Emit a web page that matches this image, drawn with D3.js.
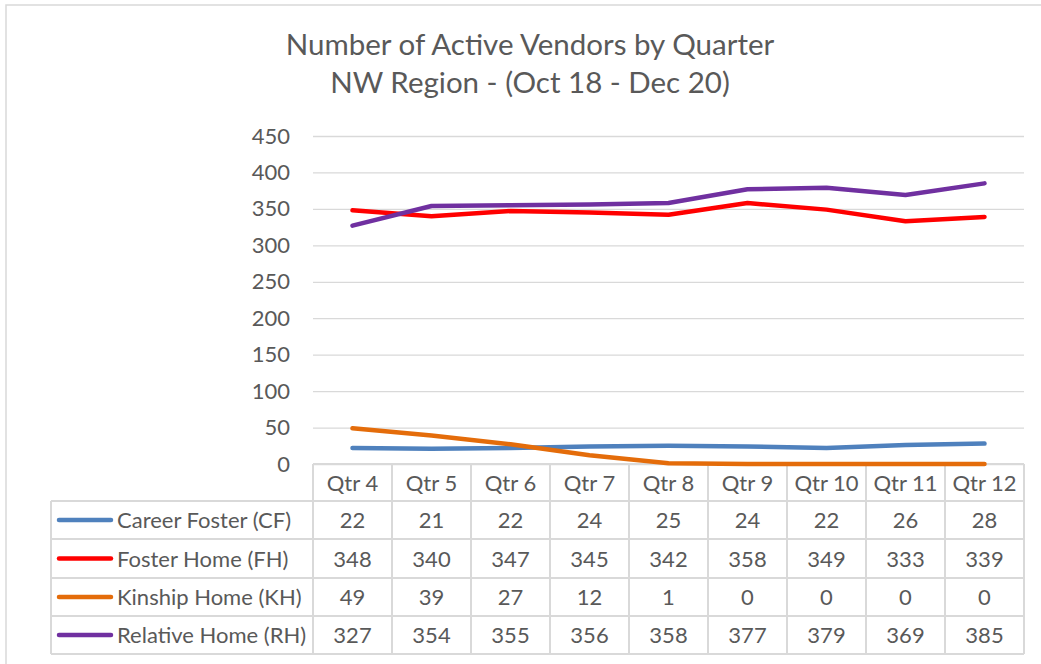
<!DOCTYPE html>
<html>
<head>
<meta charset="utf-8">
<script src="https://cdn.jsdelivr.net/npm/d3@7"></script>
<style>
  body { margin: 0; background: #fff; }
  svg { display: block; font-family: Lato, "Open Sans", sans-serif; }
</style>
</head>
<body>
<svg id="grafico" width="1041" height="664"></svg>
<script>
'use strict';

// Datos del gráfico
var trimestres = ['Qtr 4', 'Qtr 5', 'Qtr 6', 'Qtr 7', 'Qtr 8', 'Qtr 9', 'Qtr 10', 'Qtr 11', 'Qtr 12'];
var careerFoster  = [22, 21, 22, 24, 25, 24, 22, 26, 28];
var fosterHome    = [348, 340, 347, 345, 342, 358, 349, 333, 339];
var kinshipHome   = [49, 39, 27, 12, 1, 0, 0, 0, 0];
var relativeHome  = [327, 354, 355, 356, 358, 377, 379, 369, 385];
var marcasY = [0, 50, 100, 150, 200, 250, 300, 350, 400, 450];
var titulo = ['Number of Active Vendors by Quarter', 'NW Region - (Oct 18 - Dec 20)'];

var series = [
  { nombre: 'Career Foster (CF)', valores: careerFoster, color: '#4f81bd' },
  { nombre: 'Foster Home (FH)', valores: fosterHome, color: '#ff0000' },
  { nombre: 'Kinship Home (KH)', valores: kinshipHome, color: '#e46c0a' },
  { nombre: 'Relative Home (RH)', valores: relativeHome, color: '#7030a0' }
];

(function() {
  var svg = d3.select('#grafico');
  var gris = '#595959';
  var linea = '#d9d9d9';
  var letra = 22;

  // Borde del área del gráfico
  svg.append('rect')
    .attr('x', 6).attr('y', 5)
    .attr('width', 1100).attr('height', 700)
    .attr('fill', '#fff').attr('stroke', linea).attr('stroke-width', 1.5);

  // Título
  svg.append('g').selectAll('text').data(titulo).enter().append('text')
    .attr('x', 530)
    .attr('y', function(d, i) { return 55 + i * 38; })
    .attr('text-anchor', 'middle')
    .attr('font-size', 29.5)
    .attr('fill', gris)
    .text(function(d) { return d; });

  // Escalas
  var x = d3.scaleBand().domain(trimestres).range([313, 1024]);
  var y = d3.scaleLinear().domain([0, 450]).range([464, 136]);

  // Cuadrícula y eje Y
  var ejeY = svg.append('g')
    .attr('transform', 'translate(313,0)')
    .call(d3.axisLeft(y).tickValues(marcasY).tickSize(-711).tickPadding(23));
  ejeY.select('.domain').remove();
  ejeY.selectAll('line').attr('stroke', linea).attr('stroke-width', 1.3);
  ejeY.selectAll('text').attr('fill', gris).attr('font-size', letra)
    .attr('font-family', 'Lato, "Open Sans", sans-serif');

  // Tabla de datos
  var filas = [464, 501, 539, 578, 616, 654];
  var tabla = svg.append('g');
  var altoFila = function(i) { return filas[i + 1] - filas[i]; };

  // líneas horizontales
  tabla.selectAll('.h').data(filas.slice(1)).enter().append('line')
    .attr('x1', 51).attr('x2', 1024)
    .attr('y1', function(d) { return d; }).attr('y2', function(d) { return d; })
    .attr('stroke', linea).attr('stroke-width', 2);
  tabla.append('line')
    .attr('x1', 313).attr('x2', 1024).attr('y1', 464).attr('y2', 464)
    .attr('stroke', linea).attr('stroke-width', 2);

  // líneas verticales
  var columnas = trimestres.map(function(t) { return x(t); }).concat([x.range()[1]]);
  tabla.selectAll('.v').data(columnas).enter().append('line')
    .attr('x1', function(d) { return d; }).attr('x2', function(d) { return d; })
    .attr('y1', 464).attr('y2', 654)
    .attr('stroke', linea).attr('stroke-width', 2);
  tabla.append('line')
    .attr('x1', 51).attr('x2', 51).attr('y1', 501).attr('y2', 654)
    .attr('stroke', linea).attr('stroke-width', 2);

  // encabezados
  tabla.selectAll('.enc').data(trimestres).enter().append('text')
    .attr('x', function(d) { return x(d) + x.bandwidth() / 2; })
    .attr('y', filas[0] + altoFila(0) / 2 + 8)
    .attr('text-anchor', 'middle')
    .attr('font-size', letra).attr('fill', gris)
    .text(function(d) { return d; });

  // filas de cada serie
  series.forEach(function(s, i) {
    var yc = filas[i + 1] + altoFila(i + 1) / 2;
    tabla.append('line')
      .attr('x1', 59).attr('x2', 111).attr('y1', yc).attr('y2', yc)
      .attr('stroke', s.color).attr('stroke-width', 4.5).attr('stroke-linecap', 'round');
    tabla.append('text')
      .attr('x', 117).attr('y', yc + 8)
      .attr('font-size', letra).attr('fill', gris)
      .text(s.nombre);
    tabla.selectAll('.v' + i).data(s.valores).enter().append('text')
      .attr('x', function(d, j) { return x(trimestres[j]) + x.bandwidth() / 2; })
      .attr('y', yc + 8)
      .attr('text-anchor', 'middle')
      .attr('font-size', letra).attr('fill', gris)
      .text(function(d) { return d; });
  });

  // Líneas de las series
  var trazo = d3.line()
    .x(function(d, j) { return x(trimestres[j]) + x.bandwidth() / 2; })
    .y(function(d) { return y(d); });

  svg.append('g').selectAll('path').data(series).enter().append('path')
    .attr('d', function(s) { return trazo(s.valores); })
    .attr('fill', 'none')
    .attr('stroke', function(s) { return s.color; })
    .attr('stroke-width', 4.5)
    .attr('stroke-linecap', 'round')
    .attr('stroke-linejoin', 'round');
})();
</script>
</body>
</html>
